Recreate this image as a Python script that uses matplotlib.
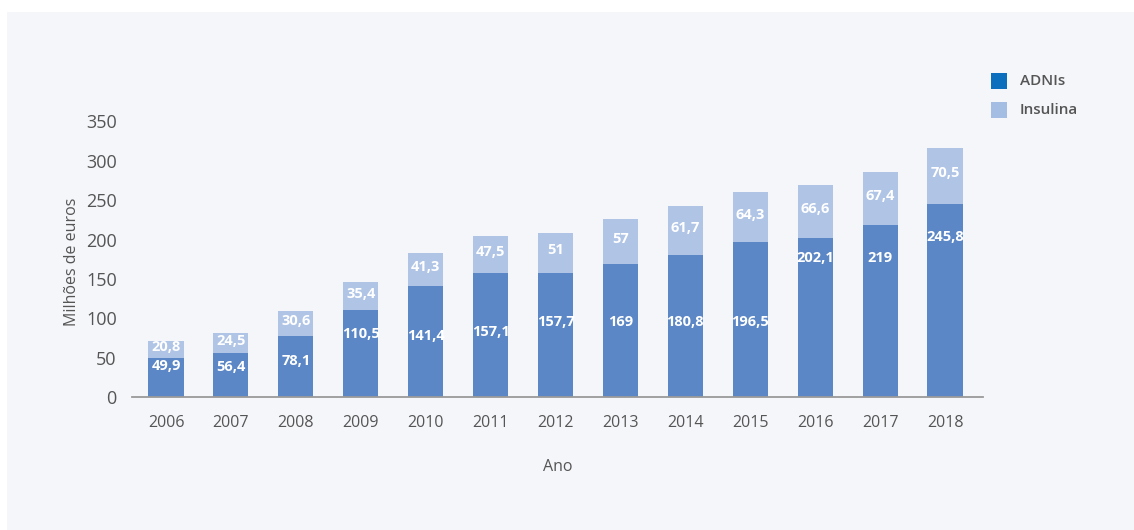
import matplotlib
matplotlib.use("Agg")
import matplotlib.pyplot as plt
from matplotlib.patches import Rectangle

plt.rcParams['font.family'] = ['Open Sans', 'DejaVu Sans']

years = ['2006', '2007', '2008', '2009', '2010', '2011', '2012',
         '2013', '2014', '2015', '2016', '2017', '2018']
adnis = [49.9, 56.4, 78.1, 110.5, 141.4, 157.1, 157.7, 169, 180.8, 196.5, 202.1, 219, 245.8]
insulina = [20.8, 24.5, 30.6, 35.4, 41.3, 47.5, 51, 57, 61.7, 64.3, 66.6, 67.4, 70.5]
# heights at which the ADNIs value labels sit inside their bars
adnis_label_y = [40, 38.5, 46, 80, 78, 83, 95, 95, 95, 95, 177, 177, 203]
yticks = [0, 50, 100, 150, 200, 250, 300, 350]

def fmt(v):
    s = f"{v:g}"
    return s.replace('.', ',')

W, H = 1134, 530
fig = plt.figure(figsize=(W / 100, H / 100), dpi=100)
fig.patch.set_facecolor('white')
fig.patches.append(Rectangle((7 / W, 0), 1 - 7 / W, 1 - 12 / H, transform=fig.transFigure,
                             facecolor='#f5f6fa', edgecolor='none', zorder=-10))

ax = fig.add_axes([132 / W, 1 - 397 / H, (983 - 132) / W, (397 - 121.5) / H])
ax.set_facecolor('none')
ax.set_zorder(5)

dark = '#5b87c6'
light = '#b0c4e6'
x = list(range(len(years)))
ax.bar(x, adnis, width=0.54, color=dark, zorder=2)
ax.bar(x, insulina, width=0.54, bottom=adnis, color=light, zorder=2)

for i in x:
    ax.text(i, adnis_label_y[i], fmt(adnis[i]), ha='center', va='center', color='white',
            fontsize=10.5, fontweight='bold', zorder=3)
    ax.text(i, adnis[i] + insulina[i] / 2 + 3, fmt(insulina[i]), ha='center', va='center',
            color='white', fontsize=10.5, fontweight='bold', zorder=3)

ax.set_xlim(-0.524, 12.585)
ax.set_ylim(0, 350)
ax.set_yticks(yticks)
ax.set_xticks(x)
ax.set_xticklabels(years)
for s in ['top', 'right', 'left']:
    ax.spines[s].set_visible(False)
ax.spines['bottom'].set_color('#9a9a9a')
ax.spines['bottom'].set_linewidth(1.3)
ax.spines['bottom'].set_zorder(4)
ax.tick_params(axis='y', length=0, pad=11, labelsize=13, labelcolor='#555555')
ax.tick_params(axis='x', length=0, pad=12.7, labelsize=11.5, labelcolor='#555555')

fig.text(72 / W, 1 - 262 / H, 'Milhões de euros', rotation=90, ha='center', va='center',
         fontsize=11.5, color='#555555')
fig.text(558 / W, 1 - 467 / H, 'Ano', ha='center', va='center', fontsize=11.5, color='#555555')

# legend
legend_items = [('ADNIs', '#0b6fbd', 81), ('Insulina', '#a4bde3', 110)]
for label, col, yc in legend_items:
    fig.patches.append(Rectangle((991 / W, 1 - (yc + 8) / H), 16 / W, 16 / H,
                                 transform=fig.transFigure, facecolor=col, edgecolor='none'))
    fig.text(1020 / W, 1 - yc / H, label, ha='left', va='center', fontsize=11,
             fontweight='semibold', color='#555555')

fig.savefig('out.png', dpi=100)
